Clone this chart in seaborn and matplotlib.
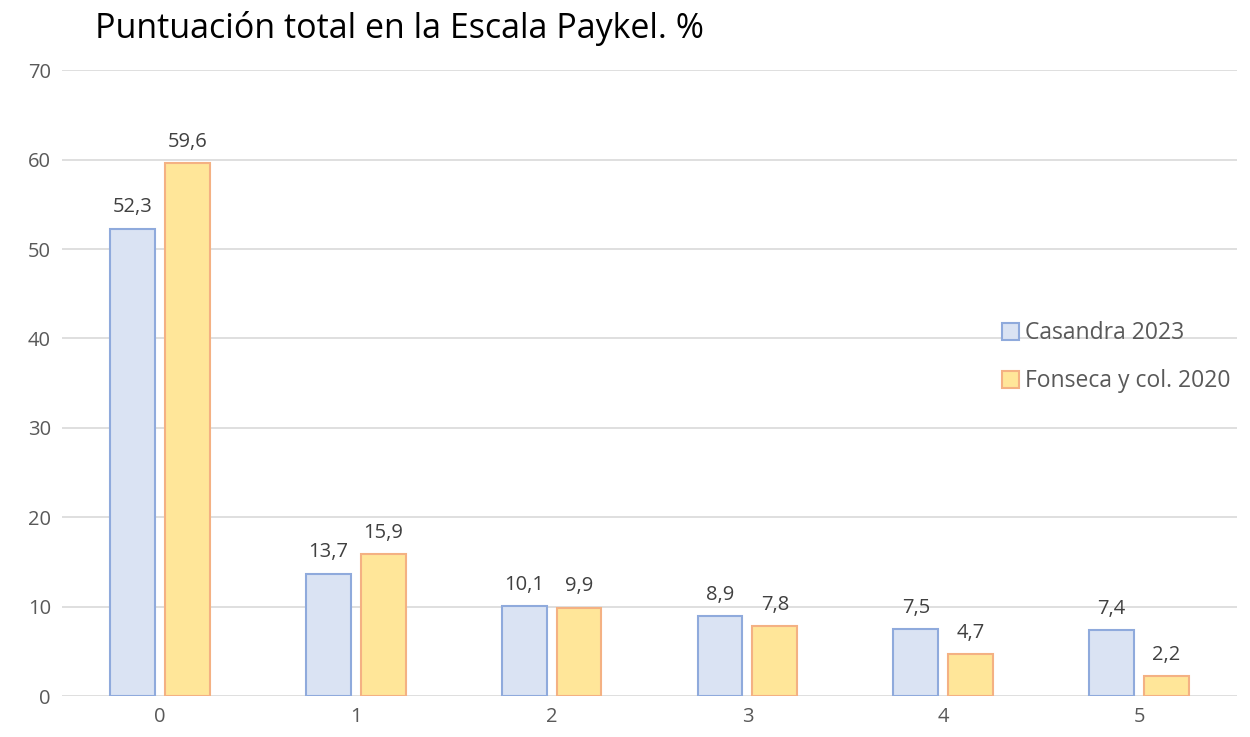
import matplotlib
matplotlib.use('Agg')
import matplotlib.pyplot as plt
import pandas as pd
import seaborn as sns

# Data
categories = ['0', '1', '2', '3', '4', '5']
casandra_2023 = [52.3, 13.7, 10.1, 8.9, 7.5, 7.4]
fonseca_2020 = [59.6, 15.9, 9.9, 7.8, 4.7, 2.2]
series_names = ['Casandra 2023', 'Fonseca y col. 2020']

df = pd.DataFrame({
    'cat': categories * 2,
    'value': casandra_2023 + fonseca_2020,
    'serie': [series_names[0]] * len(categories) + [series_names[1]] * len(categories),
})

sns.set_theme(style='white')
plt.rcParams['font.family'] = ['Open Sans', 'DejaVu Sans']

text_col = '#595959'
fills = ['#DAE3F3', '#FFE699']
edges = ['#8FAADC', '#F4B183']

fig = plt.figure(figsize=(12.5, 7.37), dpi=100)
ax = fig.add_axes([0.0496, 0.0556, 0.94, 0.849])

sns.barplot(data=df, x='cat', y='value', hue='serie', order=categories,
            hue_order=series_names, palette=fills, saturation=1, width=0.56, gap=0.18,
            linewidth=1.5, ax=ax, legend=False)

for cont, ec in zip(ax.containers, edges):
    for p in cont:
        p.set_edgecolor(ec)
    ax.bar_label(cont, labels=[f'{v:.1f}'.replace('.', ',') for v in cont.datavalues],
                 padding=8, fontsize=14.5, color='#404040')

ax.set_ylim(0, 70)
ax.set_yticks(range(0, 71, 10))
ax.grid(axis='y', color='#D9D9D9', linewidth=1.2)
ax.set_axisbelow(True)
for s in ax.spines.values():
    s.set_visible(False)
ax.tick_params(axis='both', length=0, labelsize=14.5, labelcolor=text_col, pad=8)
ax.set_xlabel('')
ax.set_ylabel('')

handles = [plt.Rectangle((0, 0), 1, 1, facecolor=f, edgecolor=e, linewidth=1.5)
           for f, e in zip(fills, edges)]
fig.legend(handles, series_names, loc='center left', bbox_to_anchor=(0.785, 0.515),
           frameon=False, fontsize=16.5, handlelength=0.75, handleheight=0.75,
           handletextpad=0.25, labelspacing=1.05, labelcolor=text_col)

fig.text(0.076, 0.962, 'Puntuación total en la Escala Paykel. %', fontsize=24.5,
         color='#000000', va='center', ha='left')

fig.savefig('out.png', dpi=100)
